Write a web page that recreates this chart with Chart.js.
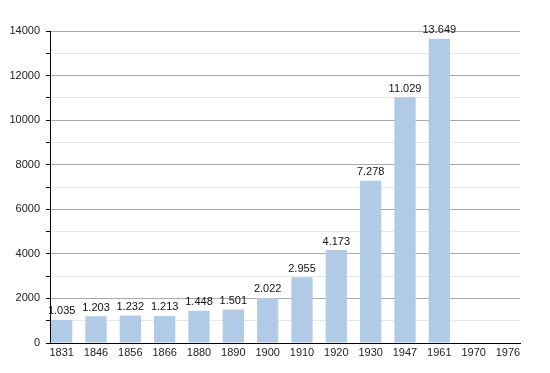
<!DOCTYPE html>
<html>
<head>
<meta charset="utf-8">
<script src="https://cdn.jsdelivr.net/npm/chart.js@4"></script>
<style>
  html, body { margin: 0; padding: 0; background: #fff; }
  #wrap { width: 550px; height: 373px; }
</style>
</head>
<body>
<div id="wrap"><canvas id="popChart"></canvas></div>
<script>
const years = ["1831", "1846", "1856", "1866", "1880", "1890", "1900", "1910", "1920", "1930", "1947", "1961", "1970", "1976"];
const population = [1035, 1203, 1232, 1213, 1448, 1501, 2022, 2955, 4173, 7278, 11029, 13649, null, null];
const yTicks = [0, 2000, 4000, 6000, 8000, 10000, 12000, 14000];

const withDots = v => String(v).replace(/\B(?=(\d{3})+(?!\d))/g, ".");

const barLabels = {
    id: "barLabels",
    afterDatasetsDraw(chart) {
        const ctx = chart.ctx;
        const meta = chart.getDatasetMeta(0);
        ctx.save();
        ctx.font = "11px 'Liberation Sans', Arial, sans-serif";
        ctx.fillStyle = "#111";
        ctx.textAlign = "center";
        ctx.textBaseline = "bottom";
        meta.data.forEach((bar, i) => {
            const v = population[i];
            if (v == null) return;
            ctx.fillText(withDots(v), bar.x, bar.y - 3);
        });
        ctx.restore();
    }
};

const popData = {
    datasets: [
        {
            label: "Population",
            data: population.map((v, i) => ({ x: i, y: v })),
            backgroundColor: "#b1cbe7",
            borderWidth: 0,
            barPercentage: 0.62,
            categoryPercentage: 1,
        },
    ],
};

const popConfig = {
    type: "bar",
    data: popData,
    plugins: [barLabels],
    options: {
        responsive: true,
        maintainAspectRatio: false,
        animation: false,
        layout: { padding: { left: 0, right: 30, top: 31, bottom: 0 } },
        plugins: {
            legend: { display: false },
            tooltip: { enabled: false },
        },
        scales: {
            x: {
                type: "linear",
                min: -0.34,
                max: 13.35,
                offset: false,
                afterBuildTicks: s => { s.ticks = years.map((y, i) => ({ value: i })); },
                afterFit: s => { s.height = 30; },
                ticks: {
                    autoSkip: false,
                    maxRotation: 0,
                    padding: 3,
                    color: "#222",
                    font: { size: 11, family: "'Liberation Sans', Arial, sans-serif" },
                    callback: v => years[v] ?? "",
                },
                grid: { display: false, drawTicks: false, tickLength: 0 },
                border: { display: true, color: "#000", width: 1 },
            },
            y: {
                min: 0,
                max: 14000,
                afterFit: s => { s.width = 50; },
                ticks: {
                    stepSize: 1000,
                    padding: 6,
                    color: "#222",
                    font: { size: 11, family: "'Liberation Sans', Arial, sans-serif" },
                    callback: v => yTicks.includes(v) ? String(v) : "",
                },
                grid: {
                    color: ctx => (ctx.tick && ctx.tick.value % 2000 === 0) ? "#aaaaaa" : "#e8e8e8",
                    tickColor: "#000",
                    tickLength: 4,
                    drawTicks: true,
                },
                border: { display: true, color: "#000", width: 1 },
            },
        },
    },
};

const popChart = new Chart(
    document.getElementById("popChart"),
    popConfig);
</script>
</body>
</html>
